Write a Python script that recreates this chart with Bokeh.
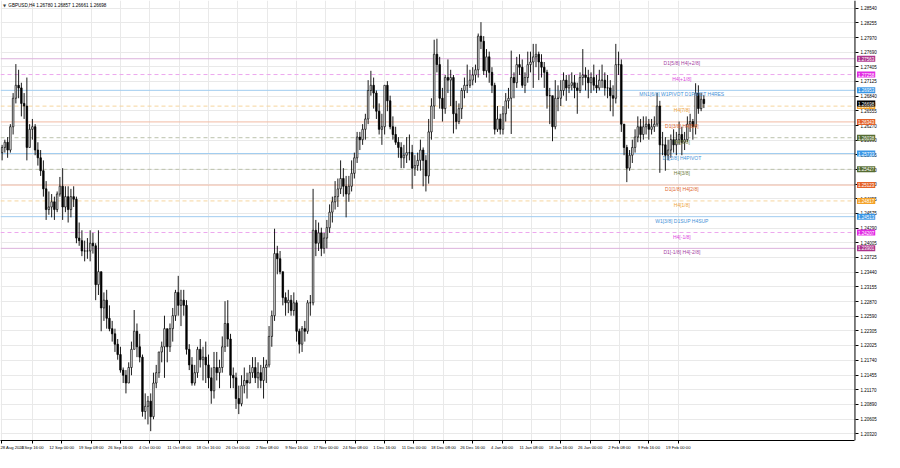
from bokeh.plotting import figure
from bokeh.models import (Range1d, FixedTicker, PrintfTickFormatter, Span, Label,
                          ColumnDataSource, BoxAnnotation)
from bokeh.embed import file_html
from bokeh.resources import INLINE
from bokeh.core.properties import value

# ---------------- data ----------------
chart_title = "GBPUSD,H4  1.26780 1.26857 1.26661 1.26698"
first_open = 1.2575
last_price = 1.26698

# half-day bars, 28 Aug 2023 .. 23 Feb 2024 (two bars per trading day)
bar_high = [
    1.2590, 1.2600, 1.2605, 1.2630, 1.2690, 1.2746, 1.2735, 1.2710, 1.2690, 1.2720,
    1.2630, 1.2640, 1.2630, 1.2595, 1.2580, 1.2560, 1.2520, 1.2500, 1.2495, 1.2490,
    1.2500, 1.2528, 1.2545, 1.2510, 1.2510, 1.2505, 1.2510, 1.2490, 1.2440, 1.2425,
    1.2405, 1.2410, 1.2425, 1.2420, 1.2400, 1.2425, 1.2345, 1.2305, 1.2310, 1.2280,
    1.2250, 1.2235, 1.2215, 1.2200, 1.2160, 1.2155, 1.2170, 1.2210, 1.2271, 1.2245,
    1.2225, 1.2185, 1.2110, 1.2105, 1.2110, 1.2150, 1.2165, 1.2190, 1.2210, 1.2260,
    1.2215, 1.2245, 1.2275, 1.2310, 1.2337, 1.2310, 1.2310, 1.2290, 1.2205, 1.2180,
    1.2165, 1.2200, 1.2215, 1.2200, 1.2210, 1.2185, 1.2160, 1.2190, 1.2190, 1.2175,
    1.2220, 1.2288, 1.2290, 1.2225, 1.2160, 1.2150, 1.2125, 1.2145, 1.2160, 1.2150,
    1.2165, 1.2180, 1.2180, 1.2170, 1.2165, 1.2180, 1.2175, 1.2240, 1.2270, 1.2428,
    1.2395, 1.2385, 1.2345, 1.2305, 1.2310, 1.2300, 1.2305, 1.2290, 1.2235, 1.2240,
    1.2250, 1.2290, 1.2300, 1.2505, 1.2445, 1.2440, 1.2430, 1.2420, 1.2445, 1.2475,
    1.2490, 1.2520, 1.2525, 1.2560, 1.2545, 1.2530, 1.2530, 1.2560, 1.2575, 1.2615,
    1.2615, 1.2630, 1.2650, 1.2715, 1.2733, 1.2720, 1.2695, 1.2670, 1.2650, 1.2705,
    1.2713, 1.2685, 1.2645, 1.2625, 1.2605, 1.2595, 1.2590, 1.2605, 1.2610, 1.2590,
    1.2570, 1.2575, 1.2600, 1.2585, 1.2570, 1.2640, 1.2680, 1.2793, 1.2795, 1.2760,
    1.2700, 1.2725, 1.2755, 1.2735, 1.2725, 1.2675, 1.2670, 1.2700, 1.2720, 1.2745,
    1.2735, 1.2740, 1.2745, 1.2805, 1.2827, 1.2800, 1.2775, 1.2770,
    1.2740, 1.2710, 1.2665, 1.2650, 1.2665, 1.2690, 1.2700, 1.2772,
    1.2730, 1.2760, 1.2765, 1.2755, 1.2730, 1.2770, 1.2770, 1.2785, 1.2785, 1.2770,
    1.2765, 1.2750, 1.2735, 1.2700, 1.2660, 1.2715, 1.2705, 1.2715, 1.2730, 1.2725,
    1.2725, 1.2730, 1.2725, 1.2710, 1.2730, 1.2775, 1.2740, 1.2735, 1.2730, 1.2745,
    1.2725, 1.2735, 1.2745, 1.2730, 1.2725, 1.2715, 1.2705, 1.2785, 1.2770, 1.2755,
    1.2630, 1.2590, 1.2580, 1.2600, 1.2620, 1.2645, 1.2640, 1.2645, 1.2645, 1.2640,
    1.2640, 1.2645, 1.2690, 1.2675, 1.2615, 1.2605, 1.2600, 1.2610, 1.2620, 1.2615,
    1.2635, 1.2625, 1.2615, 1.2645, 1.2650, 1.2640, 1.2709, 1.2705, 1.2690, 1.2686,
]
bar_low = [
    1.2560, 1.2575, 1.2565, 1.2575, 1.2610, 1.2670, 1.2680, 1.2645, 1.2640, 1.2560,
    1.2585, 1.2600, 1.2570, 1.2550, 1.2530, 1.2490, 1.2445, 1.2455, 1.2450, 1.2445,
    1.2460, 1.2490, 1.2445, 1.2460, 1.2440, 1.2450, 1.2470, 1.2400, 1.2395, 1.2375,
    1.2365, 1.2370, 1.2365, 1.2380, 1.2290, 1.2300, 1.2230, 1.2250, 1.2235, 1.2230,
    1.2210, 1.2190, 1.2175, 1.2150, 1.2130, 1.2110, 1.2130, 1.2145, 1.2200, 1.2180,
    1.2170, 1.2065, 1.2060, 1.2050, 1.2037, 1.2060, 1.2120, 1.2140, 1.2170, 1.2140,
    1.2170, 1.2190, 1.2210, 1.2250, 1.2260, 1.2240, 1.2260, 1.2185, 1.2155, 1.2125,
    1.2125, 1.2140, 1.2160, 1.2135, 1.2130, 1.2120, 1.2090, 1.2100, 1.2135, 1.2120,
    1.2150, 1.2190, 1.2200, 1.2120, 1.2120, 1.2080, 1.2070, 1.2085, 1.2110, 1.2100,
    1.2130, 1.2140, 1.2130, 1.2120, 1.2120, 1.2100, 1.2130, 1.2160, 1.2200, 1.2250,
    1.2340, 1.2340, 1.2280, 1.2260, 1.2265, 1.2260, 1.2260, 1.2210, 1.2187, 1.2190,
    1.2210, 1.2225, 1.2260, 1.2280, 1.2375, 1.2385, 1.2375, 1.2380, 1.2390, 1.2420,
    1.2440, 1.2465, 1.2470, 1.2495, 1.2490, 1.2450, 1.2480, 1.2500, 1.2525, 1.2555,
    1.2580, 1.2590, 1.2600, 1.2630, 1.2685, 1.2660, 1.2640, 1.2610, 1.2590, 1.2610,
    1.2655, 1.2620, 1.2600, 1.2590, 1.2565, 1.2545, 1.2545, 1.2555, 1.2560, 1.2505,
    1.2530, 1.2540, 1.2540, 1.2510, 1.2500, 1.2515, 1.2600, 1.2640, 1.2730, 1.2660,
    1.2635, 1.2650, 1.2690, 1.2665, 1.2612, 1.2620, 1.2630, 1.2640, 1.2680, 1.2690,
    1.2700, 1.2705, 1.2710, 1.2720, 1.2775, 1.2725, 1.2720, 1.2710,
    1.2690, 1.2610, 1.2615, 1.2610, 1.2610, 1.2635, 1.2660, 1.2611,
    1.2680, 1.2700, 1.2725, 1.2700, 1.2690, 1.2710, 1.2730, 1.2700, 1.2740, 1.2715,
    1.2720, 1.2700, 1.2660, 1.2630, 1.2597, 1.2620, 1.2655, 1.2665, 1.2685, 1.2675,
    1.2690, 1.2695, 1.2680, 1.2650, 1.2690, 1.2705, 1.2695, 1.2680, 1.2690, 1.2695,
    1.2690, 1.2695, 1.2700, 1.2685, 1.2680, 1.2655, 1.2645, 1.2670, 1.2725, 1.2615,
    1.2570, 1.2518, 1.2540, 1.2555, 1.2575, 1.2595, 1.2595, 1.2600, 1.2610, 1.2600,
    1.2610, 1.2615, 1.2625, 1.2536, 1.2570, 1.2540, 1.2560, 1.2565, 1.2575, 1.2570,
    1.2590, 1.2570, 1.2580, 1.2595, 1.2615, 1.2600, 1.2610, 1.2650, 1.2655, 1.2661,
]
bar_close = [
    1.2585, 1.2595, 1.2580, 1.2625, 1.2680, 1.2705, 1.2700, 1.2670, 1.2665, 1.2585,
    1.2620, 1.2625, 1.2580, 1.2565, 1.2540, 1.2505, 1.2465, 1.2470, 1.2480, 1.2465,
    1.2495, 1.2510, 1.2470, 1.2490, 1.2465, 1.2490, 1.2485, 1.2410, 1.2405, 1.2385,
    1.2385, 1.2385, 1.2400, 1.2395, 1.2320, 1.2345, 1.2275, 1.2290, 1.2255, 1.2235,
    1.2225, 1.2205, 1.2185, 1.2155, 1.2145, 1.2130, 1.2160, 1.2195, 1.2230, 1.2200,
    1.2180, 1.2075, 1.2085, 1.2095, 1.2065, 1.2130, 1.2150, 1.2190, 1.2200, 1.2235,
    1.2200, 1.2235, 1.2260, 1.2305, 1.2280, 1.2290, 1.2280, 1.2195, 1.2165, 1.2130,
    1.2150, 1.2195, 1.2175, 1.2180, 1.2165, 1.2140, 1.2115, 1.2160, 1.2150, 1.2160,
    1.2200, 1.2245, 1.2215, 1.2145, 1.2140, 1.2100, 1.2090, 1.2125, 1.2135, 1.2130,
    1.2150, 1.2160, 1.2140, 1.2150, 1.2135, 1.2160, 1.2165, 1.2220, 1.2260, 1.2380,
    1.2370, 1.2345, 1.2295, 1.2285, 1.2290, 1.2270, 1.2285, 1.2230, 1.2205, 1.2235,
    1.2230, 1.2285, 1.2285, 1.2425, 1.2400, 1.2420, 1.2390, 1.2410, 1.2430, 1.2460,
    1.2480, 1.2490, 1.2505, 1.2525, 1.2510, 1.2495, 1.2510, 1.2535, 1.2565, 1.2605,
    1.2600, 1.2620, 1.2640, 1.2695, 1.2705, 1.2690, 1.2655, 1.2620, 1.2625, 1.2705,
    1.2675, 1.2625, 1.2610, 1.2595, 1.2585, 1.2565, 1.2570, 1.2575, 1.2575, 1.2545,
    1.2550, 1.2560, 1.2580, 1.2560, 1.2530, 1.2615, 1.2665, 1.2765, 1.2745, 1.2680,
    1.2660, 1.2720, 1.2715, 1.2720, 1.2650, 1.2635, 1.2660, 1.2695, 1.2705, 1.2705,
    1.2715, 1.2725, 1.2735, 1.2800, 1.2790, 1.2733, 1.2760, 1.2730,
    1.2705, 1.2620, 1.2640, 1.2620, 1.2650, 1.2675, 1.2680, 1.2720,
    1.2710, 1.2745, 1.2740, 1.2705, 1.2720, 1.2745, 1.2750, 1.2760, 1.2765, 1.2750,
    1.2740, 1.2730, 1.2685, 1.2685, 1.2625, 1.2680, 1.2680, 1.2695, 1.2715, 1.2700,
    1.2705, 1.2710, 1.2700, 1.2695, 1.2720, 1.2725, 1.2720, 1.2710, 1.2720, 1.2705,
    1.2700, 1.2715, 1.2715, 1.2700, 1.2700, 1.2685, 1.2680, 1.2745, 1.2745, 1.2630,
    1.2585, 1.2545, 1.2570, 1.2585, 1.2605, 1.2625, 1.2610, 1.2625, 1.2630, 1.2620,
    1.2625, 1.2630, 1.2665, 1.2590, 1.2590, 1.2570, 1.2580, 1.2600, 1.2590, 1.2600,
    1.2610, 1.2595, 1.2600, 1.2630, 1.2635, 1.2625, 1.2690, 1.2660, 1.2678, 1.26698,
]

# time axis: H4 bar index of each date label
time_tick_index = [0, 34, 66, 98, 130, 162, 194, 226, 258, 290, 322, 354, 386, 418,
                   450, 482, 514, 546, 578, 610, 642, 674, 706, 738]
time_tick_label = ["28 Aug 2023", "4 Sep 16:00", "12 Sep 00:00", "19 Sep 08:00", "26 Sep 16:00",
                   "4 Oct 00:00", "11 Oct 08:00", "18 Oct 16:00", "26 Oct 00:00", "2 Nov 08:00",
                   "9 Nov 16:00", "17 Nov 00:00", "24 Nov 08:00", "1 Dec 16:00", "11 Dec 00:00",
                   "18 Dec 08:00", "26 Dec 16:00", "4 Jan 00:00", "11 Jan 08:00", "18 Jan 16:00",
                   "26 Jan 00:00", "2 Feb 08:00", "9 Feb 16:00", "19 Feb 00:00"]

price_ticks = [1.28540, 1.28255, 1.27970, 1.27690, 1.27405, 1.27125, 1.26840, 1.26555,
               1.26270, 1.25990, 1.25705, 1.25420, 1.25140, 1.24855, 1.24575, 1.24290,
               1.24005, 1.23725, 1.23440, 1.23155, 1.22870, 1.22590, 1.22305, 1.22025,
               1.21740, 1.21455, 1.21170, 1.20890, 1.20605, 1.20320]

level_price = [1.27563, 1.27258, 1.26953, 1.26648, 1.26343, 1.26038, 1.25733,
               1.25427, 1.25123, 1.24817, 1.24513, 1.24207, 1.23901]
level_text = ["D1[5/8] H4[+2/8]", "H4[+1/8]", "MN1[6/8] W1PIVOT D1PIVOT H4RES", "H4[7/8]",
              "D1[3/8] H4[6/8]", "H4[5/8]", "D1[2/8] H4PIVOT", "H4[3/8]", "D1[1/8] H4[2/8]",
              "H4[1/8]", "W1[3/8] D1SUP H4SUP", "H4[-1/8]", "D1[-1/8] H4[-2/8]"]

# ---------------- styles ----------------
level_style = ["purple", "magenta", "blue", "orange", "red", "olive", "blue",
               "olive", "red", "orange", "blue", "magenta", "purple"]
style_line = {"purple": "#dcb2dc", "magenta": "#eda8ee", "blue": "#a2cdf0",
              "orange": "#f6d59e", "red": "#f2bba4", "olive": "#bcc2ac"}
style_text = {"purple": "#a5409f", "magenta": "#dc45de", "blue": "#4592d8",
              "orange": "#eea33c", "red": "#e0682f", "olive": "#6b7d3c"}
style_box = {"purple": "#ad348c", "magenta": "#e22be4", "blue": "#3a97e6",
             "orange": "#f4a228", "red": "#e4622a", "olive": "#566c33"}
style_dash = {"purple": "solid", "magenta": "4 3", "blue": "solid",
              "orange": "4 3", "red": "solid", "olive": "4 3"}

FONT = "Liberation Sans"
X_LO, X_SEP, X_HI = -0.75, 930.7, 962.9   # chart left, price-scale separator, window right

n = len(bar_close)
bar_open = [first_open] + bar_close[:-1]
bar_x = [3 * k + 1 for k in range(n)]
body_top = [max(o, c) for o, c in zip(bar_open, bar_close)]
body_bot = [min(o, c) for o, c in zip(bar_open, bar_close)]
body_fill = ["white" if c >= o else "black" for o, c in zip(bar_open, bar_close)]

src = ColumnDataSource(dict(x=bar_x, hi=bar_high, lo=bar_low, top=body_top,
                            bot=body_bot, fill=body_fill))

p = figure(width=884, height=452, output_backend="svg", toolbar_location=None,
           x_range=Range1d(X_LO, X_HI), y_range=Range1d(1.20190, 1.28688),
           y_axis_location="right", min_border_left=0, min_border_top=0,
           min_border_right=0, min_border_bottom=10)
p.background_fill_color = "white"
p.border_fill_color = "white"
p.outline_line_color = None

# grid
p.xgrid.ticker = FixedTicker(ticks=time_tick_index)
p.ygrid.ticker = FixedTicker(ticks=price_ticks)
p.grid.grid_line_color = "#e9e9e9"
p.grid.grid_line_width = 1

# level lines
for price, st in zip(level_price, level_style):
    p.add_layout(Span(location=price, dimension="width", line_color=style_line[st],
                      line_width=1, line_dash=style_dash[st], level="underlay"))

# price-scale strip (blank) and its separator line
p.add_layout(BoxAnnotation(left=X_SEP, right=X_HI, fill_color="white", fill_alpha=1,
                           line_color=None, level="underlay"))
p.add_layout(Span(location=X_SEP, dimension="height", line_color="black", line_width=1,
                  level="underlay"))

# axes
xa = p.xaxis[0]
xa.ticker = FixedTicker(ticks=time_tick_index)
xa.bounds = (X_LO, X_SEP)
xa.major_label_overrides = {i: t for i, t in zip(time_tick_index, time_tick_label)}
xa.major_label_text_align = "left"
xa.major_label_text_font = FONT
xa.major_label_text_font_size = "4.2px"
xa.major_label_text_color = "black"
xa.major_label_standoff = 1
xa.major_tick_out = 3
xa.major_tick_in = 0
xa.minor_tick_out = 0
xa.minor_tick_in = 0
xa.axis_line_color = "black"
xa.major_tick_line_color = "black"

# price scale drawn inside the window strip, right of the separator
ya = p.yaxis[0]
ya.ticker = FixedTicker(ticks=price_ticks)
ya.formatter = PrintfTickFormatter(format="%.5f")
ya.major_label_text_font = FONT
ya.major_label_text_font_size = "4.5px"
ya.major_label_text_color = "black"
ya.major_tick_in = 29
ya.major_tick_out = -26
ya.minor_tick_in = 0
ya.minor_tick_out = 0
ya.major_label_standoff = -24
ya.axis_line_color = None
ya.major_tick_line_color = "black"

# candles
p.segment(x0="x", y0="lo", x1="x", y1="hi", source=src, line_color="black", line_width=0.9)
p.vbar(x="x", top="top", bottom="bot", width=1.7, source=src, fill_color="fill",
       line_color="black", line_width=0.7)

# level texts
p.text(x=[742] * len(level_price), y=level_price, text=level_text,
       text_color=[style_text[s] for s in level_style], text_font=value(FONT),
       text_font_size="5px", text_align="center", text_baseline="top", y_offset=1)

# price boxes on the price scale
for i in range(len(level_price)):
    p.add_layout(Label(x=932.9, y=level_price[i], text=f"{level_price[i]:.5f}",
                       text_color="white", text_font=FONT, text_font_size="4.5px",
                       text_baseline="middle", text_align="left",
                       background_fill_color=style_box[level_style[i]], padding=1))
p.add_layout(Label(x=932.9, y=last_price, text=f"{last_price:.5f}", text_color="white",
                   text_font=FONT, text_font_size="4.5px", text_baseline="middle",
                   text_align="left", background_fill_color="black", padding=1))

# chart title
p.add_layout(Label(x=2, y=1.28596, text="\u25bc", text_color="#404040", text_font="DejaVu Sans",
                   text_font_size="4px", text_baseline="middle", text_align="left"))
p.add_layout(Label(x=7.8, y=1.28596, text=chart_title, text_color="black", text_font=FONT,
                   text_font_size="4.6px", text_baseline="middle", text_align="left"))

open("out.html", "w").write(file_html(p, INLINE))
